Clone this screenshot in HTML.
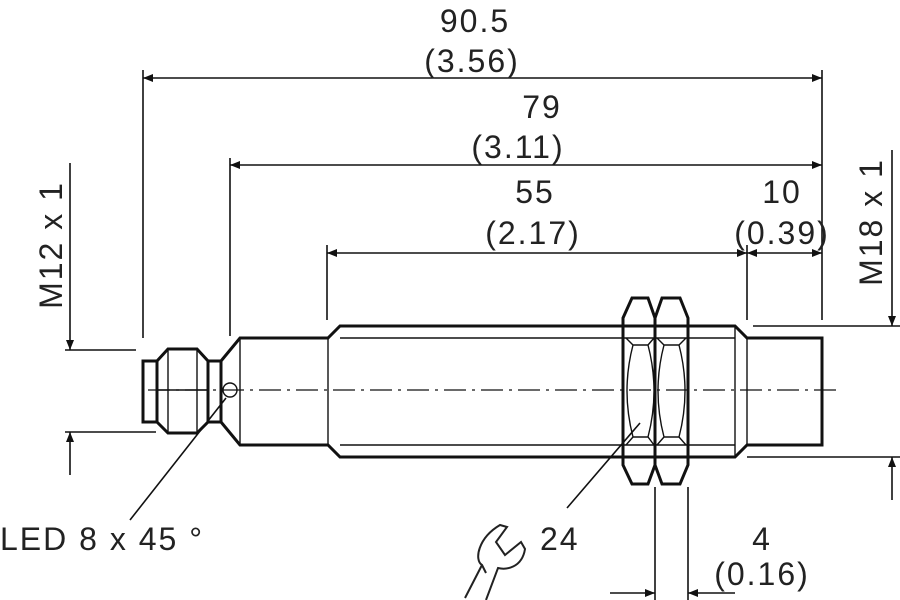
<!DOCTYPE html>
<html><head><meta charset="utf-8"><style>
html,body{margin:0;padding:0;background:#fff;width:900px;height:600px;overflow:hidden}
text{font-family:"Liberation Sans",sans-serif;fill:#222;font-size:32px;letter-spacing:2px}
</style></head><body>
<svg width="900" height="600" viewBox="0 0 900 600" xmlns="http://www.w3.org/2000/svg">
<defs>
<marker id="a" viewBox="0 0 10 10" refX="10" refY="5" markerWidth="12" markerHeight="10" markerUnits="userSpaceOnUse" orient="auto-start-reverse"><path d="M0,1 L10,5 L0,9z" fill="#111"/></marker>
</defs>
<g stroke="#111" fill="none" stroke-width="1.6">
<line x1="143" y1="70" x2="143" y2="338"/>
<line x1="822" y1="70" x2="822" y2="320"/>
<line x1="230" y1="158" x2="230" y2="336"/>
<line x1="327" y1="245" x2="327" y2="320"/>
<line x1="747" y1="245" x2="747" y2="320"/>
<line x1="65" y1="350" x2="136" y2="350"/>
<line x1="65" y1="432" x2="156" y2="432"/>
<line x1="753" y1="326" x2="900" y2="326"/>
<line x1="747" y1="457" x2="900" y2="457"/>
<line x1="655" y1="487" x2="655" y2="600"/>
<line x1="688" y1="487" x2="688" y2="600"/>
<line x1="143" y1="78" x2="822" y2="78" marker-start="url(#a)" marker-end="url(#a)"/>
<line x1="230" y1="165" x2="822" y2="165" marker-start="url(#a)" marker-end="url(#a)"/>
<line x1="327" y1="253" x2="747" y2="253" marker-start="url(#a)" marker-end="url(#a)"/>
<line x1="747" y1="253" x2="822" y2="253" marker-start="url(#a)" marker-end="url(#a)"/>
<line x1="70" y1="163" x2="70" y2="350" marker-end="url(#a)"/>
<line x1="70" y1="475" x2="70" y2="432" marker-end="url(#a)"/>
<line x1="892" y1="150" x2="892" y2="326" marker-end="url(#a)"/>
<line x1="892" y1="500" x2="892" y2="457" marker-end="url(#a)"/>
<line x1="610" y1="593" x2="655" y2="593" marker-end="url(#a)"/>
<line x1="735" y1="593" x2="688" y2="593" marker-end="url(#a)"/>
<line x1="226" y1="398" x2="130" y2="520"/>
<line x1="640" y1="423" x2="567" y2="508"/>
<line x1="148" y1="390" x2="838" y2="390" stroke-width="1.2" stroke-dasharray="22,6,3,6"/>
</g>
<g stroke="#111" fill="none" stroke-width="3">
<rect x="143" y="361" width="14" height="61"/>
<path d="M157,361 L168,349 L197,349 L208,361 L208,422 L197,433 L168,433 L157,422 Z"/>
<rect x="208" y="361" width="13" height="61"/>
<path d="M221,361 L240,338 L328,338 L340,326 L735,326 L747,338 L822,338 L822,445 L747,445 L735,457 L340,457 L328,445 L240,445 L221,422"/>
</g>
<g stroke="#111" fill="none" stroke-width="1.4">
<line x1="168" y1="349" x2="168" y2="433"/>
<line x1="197" y1="349" x2="197" y2="433"/>
<line x1="157" y1="390" x2="208" y2="390"/>
<line x1="240" y1="338" x2="240" y2="445"/>
<line x1="328" y1="338" x2="328" y2="445"/>
<line x1="340" y1="338" x2="735" y2="338"/>
<line x1="340" y1="445" x2="735" y2="445"/>
<line x1="735" y1="326" x2="735" y2="457"/>
<line x1="747" y1="338" x2="747" y2="445"/>
<circle cx="230" cy="390" r="7"/>
</g>
<!-- nuts -->
<g stroke="#111" fill="none" stroke-width="3">
<path d="M632,298 L648,298 L655,318 L655,465 L648,484 L632,484 L623,465 L623,318 Z"/>
<path d="M662,298 L680,298 L688,318 L688,465 L680,484 L662,484 L655,465 L655,318 Z"/>
</g>
<g stroke="#111" fill="none" stroke-width="1.4">
<path d="M626,338 L633,345 L648,345 L654,338 M633,345 Q621,391 633,437 M648,345 Q660,391 648,437 M626,445 L633,437 L648,437 L654,445"/>
<path d="M657,338 L664,345 L679,345 L686,338 M664,345 Q652,391 664,437 M679,345 Q691,391 679,437 M657,445 L664,437 L679,437 L686,445"/>
</g>
<g stroke="#222" fill="none" stroke-width="2">
<path d="M486,573 L482,565 C474,560 478,538 500,525 L507,527 L496,542 L505,555 L521,542 L525,549 C522,568 506,570 498,568 L486,600"/>
<line x1="482" y1="565" x2="465" y2="598"/>
</g>
<text x="475" y="32" text-anchor="middle">90.5</text>
<text x="472" y="72" text-anchor="middle">(3.56)</text>
<text x="542" y="118" text-anchor="middle">79</text>
<text x="518" y="158" text-anchor="middle">(3.11)</text>
<text x="535" y="203" text-anchor="middle">55</text>
<text x="533" y="244" text-anchor="middle">(2.17)</text>
<text x="782" y="203" text-anchor="middle">10</text>
<text x="782" y="244" text-anchor="middle">(0.39)</text>
<text x="0" y="550">LED 8 x 45 °</text>
<text x="540" y="550">24</text>
<text x="762" y="550" text-anchor="middle">4</text>
<text x="762" y="585" text-anchor="middle">(0.16)</text>
<text transform="translate(62,245) rotate(-90)" text-anchor="middle">M12 x 1</text>
<text transform="translate(882,222) rotate(-90)" text-anchor="middle">M18 x 1</text>
</svg>
</body></html>
